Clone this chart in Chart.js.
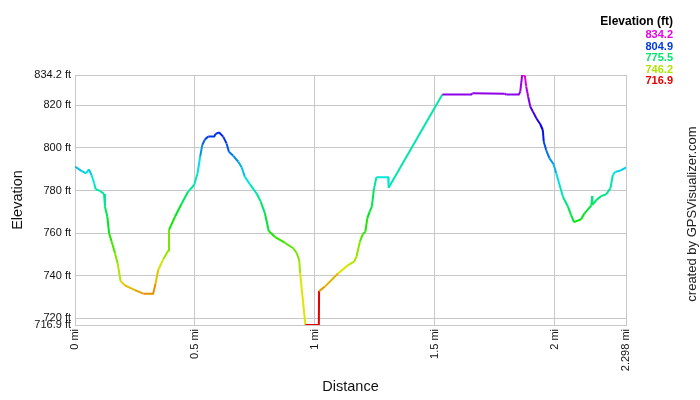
<!DOCTYPE html>
<html>
<head>
<meta charset="utf-8">
<script src="https://cdn.jsdelivr.net/npm/chart.js@4.4.0/dist/chart.umd.min.js"></script>
<style>
  html, body { margin: 0; padding: 0; background: #fff; }
  #wrap { width: 700px; height: 400px; }
</style>
</head>
<body>
<div id="wrap"><canvas id="chart-elev" width="700" height="400"></canvas></div>
<script>
// track profile (miles, feet)
const distMi = [0, 0.028, 0.046, 0.058, 0.069, 0.080, 0.086, 0.104, 0.121, 0.125, 0.135, 0.142, 0.153, 0.167, 0.178, 0.190,
  0.208, 0.250, 0.285, 0.326, 0.336, 0.347, 0.368, 0.389, 0.392, 0.417, 0.444, 0.472, 0.497, 0.511, 0.522, 0.531,
  0.542, 0.556, 0.581, 0.586, 0.600, 0.618, 0.632, 0.642, 0.660, 0.681, 0.695, 0.708, 0.729, 0.757, 0.775, 0.792,
  0.808, 0.833, 0.875, 0.910, 0.924, 0.935, 0.939, 0.961, 1.017, 1.018, 1.042, 1.097, 1.139, 1.164, 1.174, 1.188,
  1.201, 1.211, 1.219, 1.229, 1.238, 1.246, 1.257, 1.306, 1.308, 1.532, 1.653, 1.657, 1.792,
  1.799, 1.851, 1.857, 1.865, 1.876, 1.882, 1.890, 1.899, 1.910, 1.924, 1.940, 1.951, 1.955, 1.965, 1.979, 1.996,
  2.007, 2.021, 2.035, 2.056, 2.069, 2.081, 2.111, 2.125, 2.153, 2.157, 2.158, 2.174, 2.195, 2.215, 2.233, 2.243,
  2.254, 2.274, 2.298];
const elevFt = [791.2, 789.1, 788.1, 789.9, 787.3, 783.4, 780.6, 779.8, 778.4, 772.4, 767.7, 760.0, 756.0, 750.5, 745.8, 737.5,
  735.5, 733.3, 731.6, 731.6, 736.4, 742.7, 747.7, 751.8, 761.5, 767.7, 773.7, 779.5, 782.6, 788.1, 795.9, 801.4,
  804.0, 805.3, 805.3, 806.5, 807.3, 805.3, 802.1, 798.2, 796.3, 793.5, 790.9, 786.5, 783.0, 778.7, 774.7, 769.3,
  761.0, 758.3, 755.5, 752.9, 750.8, 747.4, 741.1, 716.9, 716.9, 732.8, 734.9, 741.1, 745.0, 746.6, 748.9, 756.0,
  759.6, 760.7, 766.9, 770.1, 772.4, 780.2, 786.2, 786.2, 781.3, 825.1, 825.1, 825.6, 825.4,
  825.0, 825.0, 826.4, 834.2, 833.9, 828.7, 824.0, 819.3, 817.0, 813.9, 811.2, 808.4, 802.9, 799.0, 795.1, 792.3,
  788.1, 782.6, 777.1, 772.4, 768.5, 765.2, 766.5, 769.3, 772.9, 777.4, 773.2, 775.5, 777.4, 778.2, 781.0, 787.3,
  788.8, 789.3, 790.8];

const xTicks = [0, 0.5, 1, 1.5, 2, 2.298];
const yTicks = [716.9, 720, 740, 760, 780, 800, 820, 834.2];
const legendVals = [834.2, 804.9, 775.5, 746.2, 716.9];

const yMin = 716.9, yMax = 834.2;
const FONT = '"Liberation Sans", Arial, sans-serif';

// red (low) -> magenta (high) along the hue wheel
function elevColor(v) {
  const t = Math.max(0, Math.min(1, (v - yMin) / (yMax - yMin)));
  return `hsl(${Math.round(300 * t)}, 100%, 45%)`;
}

const extras = {
  id: 'extras',
  afterDraw(chart) {
    const ctx = chart.ctx;
    ctx.save();
    ctx.textAlign = 'right';
    ctx.textBaseline = 'middle';
    ctx.font = 'bold 12px ' + FONT;
    ctx.fillStyle = '#000';
    ctx.fillText('Elevation (ft)', 673, 22);
    ctx.font = 'bold 11px ' + FONT;
    legendVals.forEach((v, i) => {
      ctx.fillStyle = elevColor(v);
      ctx.fillText(v.toFixed(1), 673, 35 + i * 11.6);
    });
    ctx.translate(692, 214);
    ctx.rotate(-Math.PI / 2);
    ctx.textAlign = 'center';
    ctx.fillStyle = '#222';
    ctx.font = '13px ' + FONT;
    ctx.fillText('created by GPSVisualizer.com', 0, 0);
    ctx.restore();
  }
};

const gridColor = '#c8c8c8';

new Chart(document.getElementById('chart-elev'), {
  type: 'line',
  data: {
    datasets: [{
      data: distMi.map((d, i) => ({ x: d, y: elevFt[i] })),
      borderWidth: 2,
      pointRadius: 0,
      tension: 0,
      borderColor: elevColor(775),
      segment: { borderColor: c => elevColor(c.p0.parsed.y) }
    }]
  },
  options: {
    responsive: false,
    animation: false,
    layout: { padding: { left: 0, right: 74, top: 75, bottom: 0 } },
    plugins: { legend: { display: false }, tooltip: { enabled: false } },
    scales: {
      x: {
        type: 'linear', min: 0, max: 2.298,
        afterBuildTicks: s => { s.ticks = xTicks.map(v => ({ value: v })); },
        afterFit: s => { s.height = 75; },
        ticks: {
          callback: v => v + ' mi', autoSkip: false, minRotation: 90, maxRotation: 90,
          color: '#111', font: { family: FONT, size: 11 }, padding: 4
        },
        grid: { color: gridColor, drawTicks: false },
        border: { color: gridColor },
        title: { display: true, text: 'Distance', color: '#111', font: { family: FONT, size: 14.5 }, padding: { top: 0, bottom: 4 } }
      },
      y: {
        type: 'linear', min: yMin, max: yMax,
        afterBuildTicks: s => { s.ticks = yTicks.map(v => ({ value: v })); },
        afterFit: s => { s.width = 75; },
        ticks: {
          callback: v => v + ' ft', autoSkip: false,
          color: '#111', font: { family: FONT, size: 11 }, padding: 4
        },
        grid: { color: gridColor, drawTicks: false },
        border: { color: gridColor },
        title: { display: true, text: 'Elevation', color: '#111', font: { family: FONT, size: 14.5 }, padding: { top: 9, bottom: 0 } }
      }
    }
  },
  plugins: [extras]
});
</script>
</body>
</html>
